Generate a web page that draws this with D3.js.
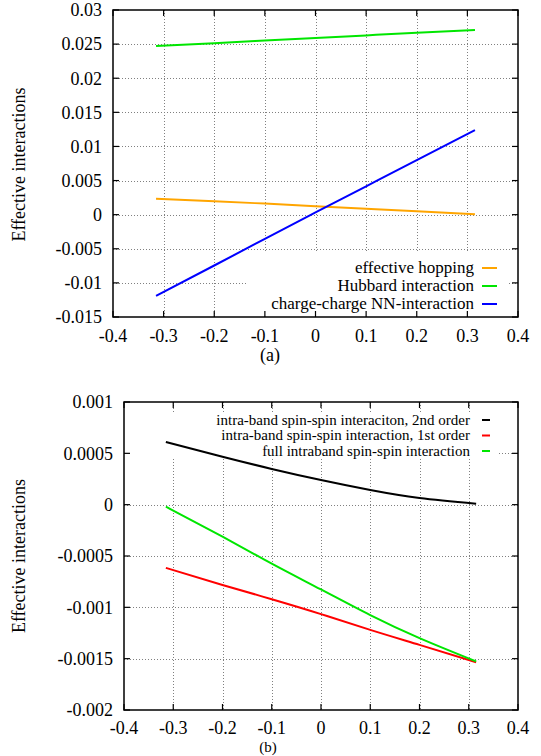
<!DOCTYPE html>
<html>
<head>
<meta charset="utf-8">
<script src="https://cdn.jsdelivr.net/npm/d3@7"></script>
<style>
html,body{margin:0;padding:0;background:#fff;}
svg{display:block;}
text{font-family:"Liberation Serif","DejaVu Serif","Times New Roman",serif;fill:#000;}
</style>
</head>
<body>
<svg id="chart" width="541" height="756"></svg>
<script>
// ---------- data ----------
const xValues = [-0.315, -0.2, -0.1, 0, 0.1, 0.2, 0.315];
const xTicks = [-0.4, -0.3, -0.2, -0.1, 0, 0.1, 0.2, 0.3, 0.4];
const xTickLabels = ["-0.4", "-0.3", "-0.2", "-0.1", "0", "0.1", "0.2", "0.3", "0.4"];

// panel (a)
const effectiveHopping = [0.00235, 0.00197, 0.00162, 0.00124, 0.00088, 0.00050, 0.00005];
const hubbardInteraction = [0.02472, 0.02514, 0.02552, 0.02590, 0.02628, 0.02666, 0.02708];
const chargeChargeNN = [-0.0119, -0.00745, -0.00355, 0.00032, 0.00415, 0.00801, 0.01240];
const yTicksA = [-0.015, -0.01, -0.005, 0, 0.005, 0.01, 0.015, 0.02, 0.025, 0.03];
const yTickLabelsA = ["-0.015", "-0.01", "-0.005", "0", "0.005", "0.01", "0.015", "0.02", "0.025", "0.03"];
const seriesNamesA = ["effective hopping", "Hubbard interaction", "charge-charge NN-interaction"];

// panel (b)
const spin2ndOrder = [0.00061, 0.000467, 0.000348, 0.00024, 0.000143, 0.000065, 0.00001];
const spin1stOrder = [-0.000616, -0.000782, -0.000921, -0.001066, -0.00122, -0.001366, -0.001535];
const spinFull = [-0.00002, -0.000312, -0.000574, -0.000826, -0.001076, -0.0013, -0.001527];
const yTicksB = [-0.002, -0.0015, -0.001, -0.0005, 0, 0.0005, 0.001];
const yTickLabelsB = ["-0.002", "-0.0015", "-0.001", "-0.0005", "0", "0.0005", "0.001"];
const seriesNamesB = ["intra-band spin-spin interaciton, 2nd order", "intra-band spin-spin interaction, 1st order", "full intraband spin-spin interaction"];

const yLabel = "Effective interactions";

// ---------- drawing ----------
const FONT = "'Liberation Serif', 'DejaVu Serif', 'Times New Roman', serif";
const svg = d3.select("#chart");
svg.append("rect").attr("width", 541).attr("height", 756).attr("fill", "#fff");

function drawPanel(cfg) {
  const g = svg.append("g").attr("font-family", FONT);
  const x = d3.scaleLinear().domain([-0.4, 0.4]).range([cfg.left, cfg.right]);
  const y = d3.scaleLinear().domain(cfg.yDomain).range([cfg.bottom, cfg.top]);

  // grid
  const grid = g.append("g").attr("stroke", "#808080").attr("stroke-width", 1).attr("stroke-dasharray", "1,2");
  xTicks.forEach(t => {
    const px = Math.round(x(t)) + 0.5;
    if (px <= cfg.left + 1 || px >= cfg.right - 1) return;
    grid.append("line").attr("x1", px).attr("x2", px).attr("y1", cfg.top).attr("y2", cfg.bottom);
  });
  cfg.yTicks.forEach(t => {
    const py = Math.round(y(t)) + 0.5;
    if (py <= cfg.top + 1 || py >= cfg.bottom - 1) return;
    grid.append("line").attr("x1", cfg.left).attr("x2", cfg.right).attr("y1", py).attr("y2", py);
  });

  // opaque key box
  g.append("rect").attr("x", cfg.key.box[0]).attr("y", cfg.key.box[1])
    .attr("width", cfg.key.box[2] - cfg.key.box[0]).attr("height", cfg.key.box[3] - cfg.key.box[1])
    .attr("fill", "#fff");

  // data
  const line = d3.line().x((d, i) => x(xValues[i])).y(d => y(d)).curve(d3.curveNatural);
  cfg.series.forEach(s => {
    g.append("path").datum(s.values).attr("d", line)
      .attr("fill", "none").attr("stroke", s.color).attr("stroke-width", 2).attr("stroke-linejoin", "round");
  });

  // border
  g.append("rect").attr("x", cfg.left).attr("y", cfg.top)
    .attr("width", cfg.right - cfg.left).attr("height", cfg.bottom - cfg.top)
    .attr("fill", "none").attr("stroke", "#000").attr("stroke-width", 1.5);

  // ticks (inward, mirrored)
  const tl = 6;
  const ticks = g.append("g").attr("stroke", "#000").attr("stroke-width", 1.2);
  xTicks.forEach(t => {
    const px = x(t);
    ticks.append("line").attr("x1", px).attr("x2", px).attr("y1", cfg.bottom).attr("y2", cfg.bottom - tl);
    ticks.append("line").attr("x1", px).attr("x2", px).attr("y1", cfg.top).attr("y2", cfg.top + tl);
  });
  cfg.yTicks.forEach(t => {
    const py = y(t);
    ticks.append("line").attr("x1", cfg.left).attr("x2", cfg.left + tl).attr("y1", py).attr("y2", py);
    ticks.append("line").attr("x1", cfg.right).attr("x2", cfg.right - tl).attr("y1", py).attr("y2", py);
  });

  // tick labels
  xTicks.forEach((t, i) => {
    g.append("text").attr("x", x(t)).attr("y", cfg.bottom + cfg.xLabelOffset).attr("text-anchor", "middle")
      .attr("font-family", FONT).attr("font-size", 18).text(xTickLabels[i]);
  });
  cfg.yTicks.forEach((t, i) => {
    g.append("text").attr("x", cfg.left - 11).attr("y", y(t)).attr("dy", "0.35em").attr("text-anchor", "end")
      .attr("font-family", FONT).attr("font-size", 18).text(cfg.yTickLabels[i]);
  });

  // y label
  g.append("text").attr("transform", `translate(25,${cfg.yLabelY}) rotate(-90)`)
    .attr("text-anchor", "middle").attr("font-family", FONT).attr("font-size", 18).text(yLabel);

  // panel label
  g.append("text").attr("x", cfg.panelLabel[1]).attr("y", cfg.panelLabel[2]).attr("text-anchor", "middle")
    .attr("font-family", FONT).attr("font-size", cfg.panelLabel[3]).text(cfg.panelLabel[0]);

  // key text + samples
  cfg.series.forEach((s, i) => {
    const cy = cfg.key.firstY + i * cfg.key.step;
    g.append("text").attr("x", cfg.key.textRight).attr("y", cy).attr("dy", "0.32em")
      .attr("text-anchor", "end").attr("font-family", FONT).attr("font-size", cfg.key.fontSize).text(s.name);
    g.append("line").attr("x1", cfg.key.sample[0]).attr("x2", cfg.key.sample[1])
      .attr("y1", cy).attr("y2", cy).attr("stroke", s.color).attr("stroke-width", 2);
  });
}

drawPanel({
  left: 113, right: 518, top: 10, bottom: 317, xLabelOffset: 25,
  yDomain: [-0.015, 0.03], yTicks: yTicksA, yTickLabels: yTickLabelsA,
  yLabelY: 164.5, panelLabel: ["(a)", 270, 361, 18],
  series: [
    { name: seriesNamesA[0], values: effectiveHopping, color: "#ffa500" },
    { name: seriesNamesA[1], values: hubbardInteraction, color: "#00e600" },
    { name: seriesNamesA[2], values: chargeChargeNN, color: "#0000ff" }
  ],
  key: { box: [248, 252, 507, 317], textRight: 474, firstY: 268, step: 18, fontSize: 17, sample: [482, 497] }
});

drawPanel({
  left: 124, right: 518, top: 402, bottom: 710, xLabelOffset: 24,
  yDomain: [-0.002, 0.001], yTicks: yTicksB, yTickLabels: yTickLabelsB,
  yLabelY: 556, panelLabel: ["(b)", 268, 752, 15],
  series: [
    { name: seriesNamesB[0], values: spin2ndOrder, color: "#000000" },
    { name: seriesNamesB[1], values: spin1stOrder, color: "#ff0000" },
    { name: seriesNamesB[2], values: spinFull, color: "#00e600" }
  ],
  key: { box: [124, 413, 497, 459], textRight: 470, firstY: 420, step: 15.5, fontSize: 15, sample: [482, 490] }
});
</script>
</body>
</html>
